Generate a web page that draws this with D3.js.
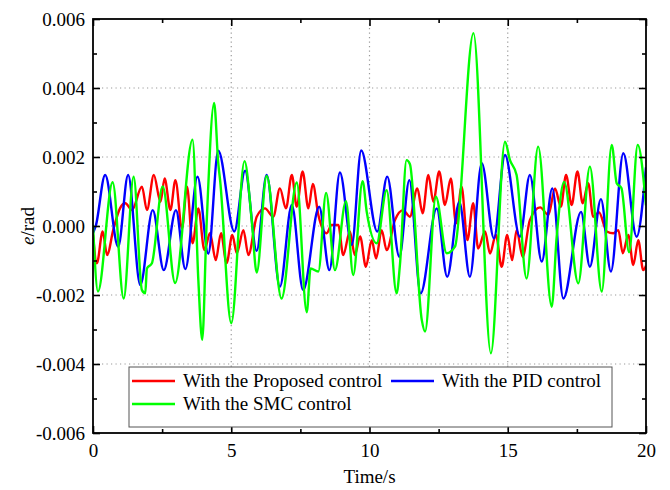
<!DOCTYPE html>
<html>
<head>
<meta charset="utf-8">
<script src="https://cdn.jsdelivr.net/npm/d3@7"></script>
<style>
  body { margin: 0; background: #fff; }
  text { font-family: "Liberation Serif", "Times New Roman", serif; fill: #000; }
</style>
</head>
<body>
<script>
// tracking error, values in 1e-3 rad
const redTime = [0, 0.14, 0.35, 0.51, 0.73, 0.98, 1.17, 1.41, 1.77, 1.95, 2.20, 2.44, 2.59, 2.80, 2.98, 3.22, 3.40, 3.60, 3.81, 4.03, 4.23, 4.44, 4.63, 4.83, 5.04, 5.20, 5.44, 5.62, 5.92, 6.22, 6.52, 6.76, 6.98, 7.19, 7.37, 7.58, 7.79, 7.95, 8.15, 8.45, 8.63, 8.87, 9.05, 9.29, 9.47, 9.66, 9.87, 10.08, 10.24, 10.44, 10.62, 10.92, 11.22, 11.46, 11.73, 11.92, 12.13, 12.31, 12.52, 12.73, 12.94, 13.13, 13.33, 13.54, 13.75, 13.93, 14.18, 14.36, 14.57, 14.78, 14.98, 15.16, 15.32, 15.54, 15.80, 16.17, 16.47, 16.71, 16.92, 17.11, 17.31, 17.52, 17.71, 17.91, 18.09, 18.30, 18.58, 18.82, 19.00, 19.16, 19.36, 19.54, 19.72, 19.90, 20.0];
const redE = [-0.25, -1.08, -0.16, -0.84, -0.12, 0.52, 0.66, 0.46, 1.14, 0.46, 1.48, 0.70, 1.38, 0.46, 1.33, -0.07, 1.14, -0.50, 0.51, -0.70, -0.21, -0.99, -0.21, -1.08, -0.26, -0.79, -0.12, -0.84, 0.27, 0.51, 0.27, 1.09, 0.51, 1.48, 0.56, 1.58, 0.51, 1.22, 0.32, -0.21, 0.03, 0.03, -0.84, -0.16, -0.84, -0.30, -1.18, -0.41, -0.94, -0.12, -0.70, 0.17, 0.46, 0.27, 1.09, 0.37, 1.48, 0.70, 1.58, 0.61, 1.38, 0.08, 1.14, -0.41, 0.66, -0.65, -0.16, -0.80, -0.25, -1.18, -0.26, -0.99, -0.12, -0.89, 0.17, 0.54, 0.32, 1.09, 0.56, 1.48, 0.61, 1.58, 0.66, 1.24, 0.27, 0.40, -0.16, -0.21, -0.12, -0.79, -0.26, -1.13, -0.41, -1.28, -1.15];

const blueTime = [0, 0.10, 0.44, 0.91, 1.27, 1.71, 2.16, 2.56, 3.00, 3.34, 3.78, 4.17, 4.53, 5.11, 5.50, 5.92, 6.28, 6.76, 7.19, 7.60, 8.18, 8.55, 8.93, 9.36, 9.70, 10.28, 10.64, 11.08, 11.44, 11.85, 12.43, 12.81, 13.25, 13.63, 14.06, 14.50, 14.90, 15.44, 15.80, 16.23, 16.61, 17.01, 17.65, 17.97, 18.37, 18.73, 19.18, 19.66, 20.0];
const blueE = [-0.20, 0.00, 1.48, -0.60, 1.48, -1.71, 0.46, -1.28, 0.46, -1.25, 1.43, -0.80, 2.18, -0.16, 1.60, -0.72, 1.48, -1.76, 0.61, -1.86, 0.56, -1.28, 1.55, -0.55, 2.19, -0.16, 1.43, -0.89, 1.33, -1.95, 0.51, -1.47, 0.70, -1.47, 1.82, -0.36, 2.06, -0.31, 1.48, -1.03, 1.09, -2.10, 0.41, -1.18, 0.78, -1.32, 2.11, -0.31, 1.70];

const greenTime = [0, 0.18, 0.71, 1.11, 1.47, 1.77, 1.89, 1.95, 2.13, 2.52, 2.97, 3.60, 3.81, 3.95, 4.11, 4.38, 4.53, 4.60, 5.00, 5.48, 5.74, 5.92, 6.28, 6.82, 7.37, 7.73, 7.87, 8.15, 8.43, 8.75, 9.15, 9.41, 9.75, 9.90, 10.26, 10.62, 10.98, 11.10, 11.34, 11.46, 11.89, 12.01, 12.40, 12.79, 13.09, 13.76, 14.39, 14.90, 15.08, 15.32, 15.68, 16.10, 16.59, 16.77, 17.04, 17.55, 17.97, 18.40, 18.76, 18.94, 19.11, 19.39, 19.70, 20.0];
const greenE = [0.03, -1.90, 1.27, -2.10, 1.43, -1.86, -1.95, -1.23, -1.08, 1.15, -1.65, 2.50, -1.57, -3.30, 0.08, 3.57, 1.82, 1.30, -2.82, 1.88, 0.17, -1.35, 1.45, -2.10, 1.26, -2.50, -1.23, -1.32, 0.96, -1.28, 0.72, -1.42, 1.30, 0.41, -0.50, 1.04, -1.95, -1.13, 1.91, 1.80, -2.72, -3.06, 0.85, -0.79, -0.60, 5.59, -3.69, 2.44, 1.91, 1.48, -1.52, 2.30, -2.34, -0.31, 1.28, -1.66, 1.72, -1.90, 2.35, 1.24, 1.10, -0.76, 2.35, 0.60];

const xMajor = [0, 5, 10, 15, 20];
const xMinor = [2.5, 7.5, 12.5, 17.5];
const yMajor = [-0.006, -0.004, -0.002, 0, 0.002, 0.004, 0.006];
const yMinor = [-0.005, -0.003, -0.001, 0.001, 0.003, 0.005];

const seriesNames = ['With the Proposed control', 'With the PID control', 'With the SMC control'];
const seriesColors = ['#ff0000', '#0000ff', '#00ff00'];

const width = 670, height = 490;
const pLeft = 93, pRight = 646, pTop = 19, pBottom = 433;
const serif = '"Liberation Serif", "Times New Roman", serif';

const svg = d3.select('body').append('svg')
    .attr('width', width)
    .attr('height', height);

const x = d3.scaleLinear().domain([0, 20]).range([pLeft, pRight]);
const y = d3.scaleLinear().domain([-0.006, 0.006]).range([pBottom, pTop]);

// dotted grid at the inner major ticks
svg.append('g').selectAll('line')
    .data(xMajor.slice(1, -1))
    .enter().append('line')
    .attr('x1', d => x(d)).attr('x2', d => x(d))
    .attr('y1', pTop).attr('y2', pBottom)
    .attr('stroke', '#9a9a9a').attr('stroke-width', 1.2)
    .attr('stroke-dasharray', '1.2,3.3');
svg.append('g').selectAll('line')
    .data(yMajor.slice(1, -1))
    .enter().append('line')
    .attr('y1', d => y(d)).attr('y2', d => y(d))
    .attr('x1', pLeft).attr('x2', pRight)
    .attr('stroke', '#9a9a9a').attr('stroke-width', 1.2)
    .attr('stroke-dasharray', '1.2,3.3');

svg.append('clipPath').attr('id', 'plot')
    .append('rect')
    .attr('x', pLeft).attr('y', pTop)
    .attr('width', pRight - pLeft).attr('height', pBottom - pTop);

const line = d3.line()
    .x(d => x(d[0]))
    .y(d => y(d[1] * 1e-3))
    .curve(d3.curveMonotoneX);

const series = [
    d3.zip(redTime, redE),
    d3.zip(blueTime, blueE),
    d3.zip(greenTime, greenE)
];

svg.append('g').attr('clip-path', 'url(#plot)')
    .selectAll('path')
    .data(series)
    .enter().append('path')
    .attr('d', line)
    .attr('fill', 'none')
    .attr('stroke', (d, i) => seriesColors[i])
    .attr('stroke-width', 2.4)
    .attr('stroke-linejoin', 'round');

// axes with inward ticks on all four sides
const fmt = d => d.toFixed(3);
const axisStyle = g => {
    g.attr('font-family', serif).attr('font-size', 19);
    g.select('.domain').remove();
    g.selectAll('line').attr('stroke', '#000').attr('stroke-width', 1.6);
    g.selectAll('text').style('font-size', '19px').style('font-family', serif).attr('fill', '#000');
};

svg.append('g').attr('transform', `translate(0,${pBottom})`)
    .call(d3.axisBottom(x).tickValues(xMajor).tickSizeInner(-7).tickSizeOuter(0).tickPadding(11))
    .call(axisStyle);
svg.append('g').attr('transform', `translate(0,${pBottom})`)
    .call(d3.axisBottom(x).tickValues(xMinor).tickSizeInner(-4).tickSizeOuter(0).tickFormat(''))
    .call(axisStyle);
svg.append('g').attr('transform', `translate(0,${pTop})`)
    .call(d3.axisTop(x).tickValues(xMajor).tickSizeInner(-7).tickSizeOuter(0).tickFormat(''))
    .call(axisStyle);
svg.append('g').attr('transform', `translate(0,${pTop})`)
    .call(d3.axisTop(x).tickValues(xMinor).tickSizeInner(-4).tickSizeOuter(0).tickFormat(''))
    .call(axisStyle);

svg.append('g').attr('transform', `translate(${pLeft},0)`)
    .call(d3.axisLeft(y).tickValues(yMajor).tickSizeInner(-7).tickSizeOuter(0).tickPadding(8).tickFormat(fmt))
    .call(axisStyle);
svg.append('g').attr('transform', `translate(${pLeft},0)`)
    .call(d3.axisLeft(y).tickValues(yMinor).tickSizeInner(-4).tickSizeOuter(0).tickFormat(''))
    .call(axisStyle);
svg.append('g').attr('transform', `translate(${pRight},0)`)
    .call(d3.axisRight(y).tickValues(yMajor).tickSizeInner(-7).tickSizeOuter(0).tickFormat(''))
    .call(axisStyle);
svg.append('g').attr('transform', `translate(${pRight},0)`)
    .call(d3.axisRight(y).tickValues(yMinor).tickSizeInner(-4).tickSizeOuter(0).tickFormat(''))
    .call(axisStyle);

// frame
svg.append('rect')
    .attr('x', pLeft).attr('y', pTop)
    .attr('width', pRight - pLeft).attr('height', pBottom - pTop)
    .attr('fill', 'none').attr('stroke', '#000').attr('stroke-width', 1.8);

// axis titles
svg.append('text')
    .attr('x', (pLeft + pRight) / 2).attr('y', 483)
    .attr('text-anchor', 'middle')
    .style('font-size', '19px')
    .text('Time/s');

const yt = svg.append('text')
    .attr('transform', `translate(34,${(pTop + pBottom) / 2}) rotate(-90)`)
    .attr('text-anchor', 'middle')
    .style('font-size', '19px');
yt.append('tspan').style('font-style', 'italic').text('e');
yt.append('tspan').text('/rad');

// legend
const legend = svg.append('g');
legend.append('rect')
    .attr('x', 129).attr('y', 367).attr('width', 483).attr('height', 60)
    .attr('fill', '#fff').attr('stroke', '#555').attr('stroke-width', 1);

const legendPos = [[132, 381], [391, 381], [132, 404]];
seriesNames.forEach((name, i) => {
    const [lx, ly] = legendPos[i];
    legend.append('line')
        .attr('x1', lx).attr('x2', lx + 43)
        .attr('y1', ly).attr('y2', ly)
        .attr('stroke', seriesColors[i]).attr('stroke-width', 2.4);
    legend.append('text')
        .attr('x', lx + 51).attr('y', ly + 6)
        .style('font-size', '19px')
        .text(name);
});
</script>
</body>
</html>
